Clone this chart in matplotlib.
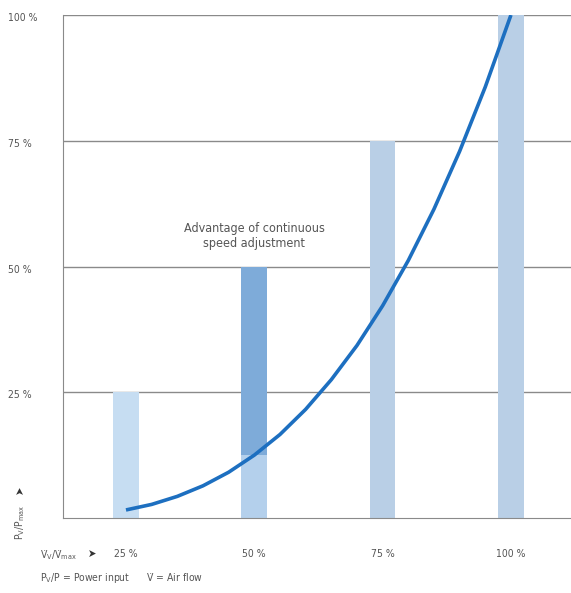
import matplotlib
matplotlib.use("Agg")
import matplotlib.pyplot as plt
import matplotlib.transforms as mtrans

# ---- data ----
bar_positions = [25, 50, 75, 100]           # air flow (%)
bar_heights = [25, 50, 75, 100]             # step power (%)
bar_colors = ["#c6ddf2", "#b4d0ec", "#b9cfe6", "#b9cfe6"]
curve_x = [25, 30, 35, 40, 45, 50, 55, 60, 65, 70, 75, 80, 85, 90, 95, 100]
curve_y = [1.6, 2.7, 4.3, 6.4, 9.1, 12.5, 16.6, 21.6, 27.5, 34.3, 42.2, 51.2, 61.4, 72.9, 85.7, 100]
adv_bar_x = 50
adv_bar_bottom = 12.5
adv_bar_top = 50
y_ticks = [25, 50, 75, 100]
y_tick_labels = ["25 %", "50 %", "75 %", "100 %"]
x_tick_labels = ["25 %", "50 %", "75 %", "100 %"]

plt.rcParams['font.family'] = ['DejaVu Sans']
plt.rcParams['font.stretch'] = 'condensed'

txt = "#555555"
fig = plt.figure(figsize=(5.71, 5.93), dpi=100)
ax = fig.add_axes([63/571, 1-518/593, 1-63/571, 503/593])
ax.set_xlim(12.73, 111.7)
ax.set_ylim(0, 100)

ax.bar(bar_positions, bar_heights, width=5.0, color=bar_colors, zorder=2, linewidth=0)
ax.bar([adv_bar_x], [adv_bar_top - adv_bar_bottom], bottom=[adv_bar_bottom], width=5.0,
       color="#7eabd9", zorder=2.5, linewidth=0)

for yv in y_ticks:
    ax.axhline(yv, color="#8a8a8a", lw=1.0, zorder=1)

ax.plot(curve_x, curve_y, color="#1d6fc0", lw=2.6, zorder=3, solid_capstyle='butt')

for s in ["top", "right"]:
    ax.spines[s].set_visible(False)
ax.spines["left"].set_color("#8a8a8a")
ax.spines["bottom"].set_color("#8a8a8a")
ax.tick_params(length=0)
ax.set_yticks(y_ticks)
ax.set_yticklabels([])
ax.set_xticks(bar_positions)
ax.set_xticklabels(x_tick_labels, fontsize=7.5, color=txt)
ax.tick_params(axis='x', pad=31)
ax.tick_params(axis='x', pad=22)

ylab_tr = mtrans.blended_transform_factory(fig.transFigure, ax.transData)
for yv, lab in zip(y_ticks, y_tick_labels):
    ax.text(8/571, yv - 0.6, lab, transform=ylab_tr, fontsize=7.5, color=txt,
            ha="left", va="center", clip_on=False)

ax.text(50, 56, "Advantage of continuous\nspeed adjustment", ha="center", va="center",
        fontsize=9, color=txt, linespacing=1.2)

fig.text(40/571, 1-555/593, "V\u0307$_\\mathregular{V}$/V\u0307$_\\mathregular{max}$", fontsize=7.5, color=txt,
         ha="left", va="center")
fig.text(88/571, 1-554/593, "➤", fontsize=8, color="#333333", ha="left", va="center")
fig.text(40/571, 1-578/593, "P$_\\mathregular{V}$/P = Power input      V\u0307 = Air flow",
         fontsize=7.5, color=txt, ha="left", va="center")
fig.text(20/571, 1-522/593, "P$_\\mathregular{V}$/P$_\\mathregular{max}$", fontsize=7.5, color=txt,
         rotation=90, ha="center", va="center")
fig.text(20/571, 1-490/593, "➤", fontsize=8, color="#333333", rotation=90, ha="center", va="center")

fig.savefig("out.png", dpi=100, facecolor="white")
